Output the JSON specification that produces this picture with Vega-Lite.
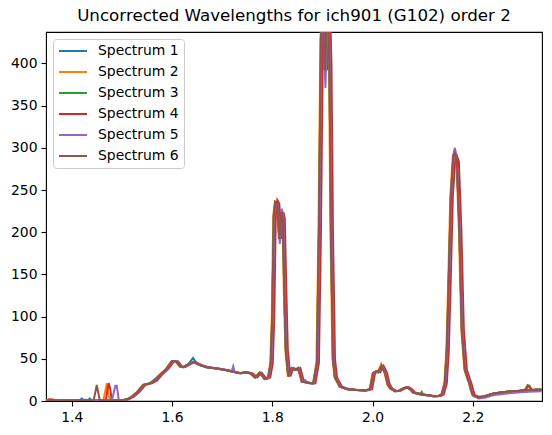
{
  "$schema": "https://vega.github.io/schema/vega-lite/v6.json",
  "width": 496,
  "height": 369,
  "autosize": {"type": "none"},
  "padding": {"left": 46, "top": 32, "right": 10, "bottom": 34},
  "background": "white",
  "title": {
    "text": "Uncorrected Wavelengths for ich901 (G102) order 2",
    "font": "DejaVu Sans",
    "fontSize": 16.7,
    "fontWeight": "normal",
    "color": "black",
    "anchor": "middle",
    "frame": "group",
    "offset": 7
  },
  "config": {
    "view": {"stroke": "black", "strokeWidth": 1.1},
    "axis": {
      "domain": false,
      "grid": false,
      "ticks": true,
      "tickColor": "black",
      "tickSize": 5,
      "tickWidth": 1.1,
      "labelFont": "DejaVu Sans",
      "labelFontSize": 13.9,
      "labelColor": "black",
      "labelPadding": 4
    },
    "legend": {
      "orient": "none",
      "legendX": 7,
      "legendY": 7,
      "symbolType": "stroke",
      "symbolSize": 784,
      "symbolStrokeWidth": 2,
      "clipHeight": 14,
      "rowPadding": 7,
      "padding": 5,
      "labelFont": "DejaVu Sans",
      "labelFontSize": 13.9,
      "labelColor": "black",
      "labelOffset": 10,
      "fillColor": "rgba(255,255,255,0.8)",
      "strokeColor": "#cccccc",
      "cornerRadius": 3
    }
  },
  "data": {
    "values": [
      {"s":"Spectrum 1","w":1.349,"f":1},{"s":"Spectrum 1","w":1.36,"f":1},{"s":"Spectrum 1","w":1.37,"f":0.5},{"s":"Spectrum 1","w":1.39,"f":0.5},{"s":"Spectrum 1","w":1.41,"f":0.5},{"s":"Spectrum 1","w":1.415,"f":0.5},{"s":"Spectrum 1","w":1.42,"f":3},{"s":"Spectrum 1","w":1.425,"f":0.5},{"s":"Spectrum 1","w":1.432,"f":0.5},{"s":"Spectrum 1","w":1.436,"f":3},{"s":"Spectrum 1","w":1.44,"f":0.5},{"s":"Spectrum 1","w":1.5,"f":0.5},{"s":"Spectrum 1","w":1.51,"f":2},{"s":"Spectrum 1","w":1.52,"f":5},{"s":"Spectrum 1","w":1.53,"f":10},{"s":"Spectrum 1","w":1.536,"f":15},{"s":"Spectrum 1","w":1.543,"f":19},{"s":"Spectrum 1","w":1.55,"f":20},{"s":"Spectrum 1","w":1.556,"f":21},{"s":"Spectrum 1","w":1.566,"f":26},{"s":"Spectrum 1","w":1.576,"f":31},{"s":"Spectrum 1","w":1.589,"f":38},{"s":"Spectrum 1","w":1.6,"f":47},{"s":"Spectrum 1","w":1.608,"f":47},{"s":"Spectrum 1","w":1.616,"f":41},{"s":"Spectrum 1","w":1.622,"f":40},{"s":"Spectrum 1","w":1.632,"f":43.5},{"s":"Spectrum 1","w":1.642,"f":51},{"s":"Spectrum 1","w":1.65,"f":44},{"s":"Spectrum 1","w":1.656,"f":42.5},{"s":"Spectrum 1","w":1.669,"f":40},{"s":"Spectrum 1","w":1.689,"f":38.5},{"s":"Spectrum 1","w":1.709,"f":36.5},{"s":"Spectrum 1","w":1.722,"f":34.5},{"s":"Spectrum 1","w":1.736,"f":33},{"s":"Spectrum 1","w":1.746,"f":34},{"s":"Spectrum 1","w":1.756,"f":33},{"s":"Spectrum 1","w":1.766,"f":28},{"s":"Spectrum 1","w":1.775,"f":33.5},{"s":"Spectrum 1","w":1.785,"f":26},{"s":"Spectrum 1","w":1.792,"f":28},{"s":"Spectrum 1","w":1.797,"f":45},{"s":"Spectrum 1","w":1.8,"f":100},{"s":"Spectrum 1","w":1.803,"f":220},{"s":"Spectrum 1","w":1.806,"f":236},{"s":"Spectrum 1","w":1.81,"f":234},{"s":"Spectrum 1","w":1.814,"f":192},{"s":"Spectrum 1","w":1.818,"f":224},{"s":"Spectrum 1","w":1.821,"f":216},{"s":"Spectrum 1","w":1.824,"f":130},{"s":"Spectrum 1","w":1.827,"f":60},{"s":"Spectrum 1","w":1.832,"f":29},{"s":"Spectrum 1","w":1.836,"f":36},{"s":"Spectrum 1","w":1.839,"f":39},{"s":"Spectrum 1","w":1.846,"f":37},{"s":"Spectrum 1","w":1.852,"f":39},{"s":"Spectrum 1","w":1.856,"f":30},{"s":"Spectrum 1","w":1.859,"f":23},{"s":"Spectrum 1","w":1.869,"f":22},{"s":"Spectrum 1","w":1.876,"f":21},{"s":"Spectrum 1","w":1.882,"f":21},{"s":"Spectrum 1","w":1.889,"f":45},{"s":"Spectrum 1","w":1.893,"f":200},{"s":"Spectrum 1","w":1.897,"f":430},{"s":"Spectrum 1","w":1.9,"f":470},{"s":"Spectrum 1","w":1.903,"f":420},{"s":"Spectrum 1","w":1.905,"f":392},{"s":"Spectrum 1","w":1.908,"f":440},{"s":"Spectrum 1","w":1.911,"f":470},{"s":"Spectrum 1","w":1.914,"f":400},{"s":"Spectrum 1","w":1.917,"f":200},{"s":"Spectrum 1","w":1.921,"f":50},{"s":"Spectrum 1","w":1.925,"f":28},{"s":"Spectrum 1","w":1.935,"f":17},{"s":"Spectrum 1","w":1.95,"f":14},{"s":"Spectrum 1","w":1.968,"f":13},{"s":"Spectrum 1","w":1.985,"f":12.5},{"s":"Spectrum 1","w":1.995,"f":14},{"s":"Spectrum 1","w":2.001,"f":33},{"s":"Spectrum 1","w":2.007,"f":35},{"s":"Spectrum 1","w":2.011,"f":34},{"s":"Spectrum 1","w":2.018,"f":41.5},{"s":"Spectrum 1","w":2.025,"f":33},{"s":"Spectrum 1","w":2.03,"f":20},{"s":"Spectrum 1","w":2.035,"f":15},{"s":"Spectrum 1","w":2.045,"f":11.5},{"s":"Spectrum 1","w":2.052,"f":12},{"s":"Spectrum 1","w":2.058,"f":14},{"s":"Spectrum 1","w":2.068,"f":16.5},{"s":"Spectrum 1","w":2.075,"f":14},{"s":"Spectrum 1","w":2.081,"f":10},{"s":"Spectrum 1","w":2.095,"f":8},{"s":"Spectrum 1","w":2.105,"f":7},{"s":"Spectrum 1","w":2.114,"f":6.5},{"s":"Spectrum 1","w":2.121,"f":5.5},{"s":"Spectrum 1","w":2.132,"f":6},{"s":"Spectrum 1","w":2.138,"f":8},{"s":"Spectrum 1","w":2.144,"f":21},{"s":"Spectrum 1","w":2.148,"f":60},{"s":"Spectrum 1","w":2.151,"f":124},{"s":"Spectrum 1","w":2.156,"f":242},{"s":"Spectrum 1","w":2.161,"f":291},{"s":"Spectrum 1","w":2.164,"f":294},{"s":"Spectrum 1","w":2.168,"f":286},{"s":"Spectrum 1","w":2.173,"f":203},{"s":"Spectrum 1","w":2.178,"f":84},{"s":"Spectrum 1","w":2.184,"f":37},{"s":"Spectrum 1","w":2.19,"f":26},{"s":"Spectrum 1","w":2.193,"f":21},{"s":"Spectrum 1","w":2.197,"f":12},{"s":"Spectrum 1","w":2.2,"f":7},{"s":"Spectrum 1","w":2.211,"f":5},{"s":"Spectrum 1","w":2.225,"f":6},{"s":"Spectrum 1","w":2.241,"f":9},{"s":"Spectrum 1","w":2.255,"f":10},{"s":"Spectrum 1","w":2.267,"f":11},{"s":"Spectrum 1","w":2.29,"f":12},{"s":"Spectrum 1","w":2.31,"f":13},{"s":"Spectrum 1","w":2.336,"f":13.5},

      {"s":"Spectrum 2","w":1.348,"f":1},{"s":"Spectrum 2","w":1.359,"f":1.5},{"s":"Spectrum 2","w":1.369,"f":0.5},{"s":"Spectrum 2","w":1.389,"f":0.5},{"s":"Spectrum 2","w":1.409,"f":0.5},{"s":"Spectrum 2","w":1.429,"f":1.5},{"s":"Spectrum 2","w":1.439,"f":0.5},{"s":"Spectrum 2","w":1.463,"f":0.5},{"s":"Spectrum 2","w":1.467,"f":12},{"s":"Spectrum 2","w":1.47,"f":21},{"s":"Spectrum 2","w":1.473,"f":8},{"s":"Spectrum 2","w":1.477,"f":0.5},{"s":"Spectrum 2","w":1.499,"f":0.5},{"s":"Spectrum 2","w":1.509,"f":2},{"s":"Spectrum 2","w":1.519,"f":5},{"s":"Spectrum 2","w":1.529,"f":10},{"s":"Spectrum 2","w":1.535,"f":14},{"s":"Spectrum 2","w":1.542,"f":19},{"s":"Spectrum 2","w":1.549,"f":20},{"s":"Spectrum 2","w":1.555,"f":21},{"s":"Spectrum 2","w":1.565,"f":24},{"s":"Spectrum 2","w":1.575,"f":31},{"s":"Spectrum 2","w":1.588,"f":38},{"s":"Spectrum 2","w":1.599,"f":47},{"s":"Spectrum 2","w":1.607,"f":47},{"s":"Spectrum 2","w":1.615,"f":41},{"s":"Spectrum 2","w":1.621,"f":40},{"s":"Spectrum 2","w":1.631,"f":43.5},{"s":"Spectrum 2","w":1.641,"f":46.5},{"s":"Spectrum 2","w":1.655,"f":42.5},{"s":"Spectrum 2","w":1.668,"f":40},{"s":"Spectrum 2","w":1.688,"f":38.5},{"s":"Spectrum 2","w":1.708,"f":36.5},{"s":"Spectrum 2","w":1.721,"f":34.5},{"s":"Spectrum 2","w":1.735,"f":33},{"s":"Spectrum 2","w":1.745,"f":34},{"s":"Spectrum 2","w":1.755,"f":33},{"s":"Spectrum 2","w":1.765,"f":28},{"s":"Spectrum 2","w":1.774,"f":33.5},{"s":"Spectrum 2","w":1.784,"f":26},{"s":"Spectrum 2","w":1.791,"f":28},{"s":"Spectrum 2","w":1.796,"f":45},{"s":"Spectrum 2","w":1.799,"f":100},{"s":"Spectrum 2","w":1.802,"f":220},{"s":"Spectrum 2","w":1.805,"f":236},{"s":"Spectrum 2","w":1.809,"f":234},{"s":"Spectrum 2","w":1.813,"f":192},{"s":"Spectrum 2","w":1.817,"f":224},{"s":"Spectrum 2","w":1.82,"f":216},{"s":"Spectrum 2","w":1.823,"f":130},{"s":"Spectrum 2","w":1.826,"f":60},{"s":"Spectrum 2","w":1.831,"f":29},{"s":"Spectrum 2","w":1.835,"f":36},{"s":"Spectrum 2","w":1.838,"f":39},{"s":"Spectrum 2","w":1.845,"f":37},{"s":"Spectrum 2","w":1.851,"f":39},{"s":"Spectrum 2","w":1.855,"f":30},{"s":"Spectrum 2","w":1.858,"f":23},{"s":"Spectrum 2","w":1.868,"f":22},{"s":"Spectrum 2","w":1.875,"f":21},{"s":"Spectrum 2","w":1.881,"f":21},{"s":"Spectrum 2","w":1.888,"f":45},{"s":"Spectrum 2","w":1.892,"f":200},{"s":"Spectrum 2","w":1.896,"f":430},{"s":"Spectrum 2","w":1.899,"f":470},{"s":"Spectrum 2","w":1.902,"f":420},{"s":"Spectrum 2","w":1.904,"f":392},{"s":"Spectrum 2","w":1.907,"f":440},{"s":"Spectrum 2","w":1.91,"f":470},{"s":"Spectrum 2","w":1.913,"f":400},{"s":"Spectrum 2","w":1.916,"f":200},{"s":"Spectrum 2","w":1.92,"f":50},{"s":"Spectrum 2","w":1.924,"f":28},{"s":"Spectrum 2","w":1.934,"f":17},{"s":"Spectrum 2","w":1.949,"f":14},{"s":"Spectrum 2","w":1.967,"f":13},{"s":"Spectrum 2","w":1.984,"f":12.5},{"s":"Spectrum 2","w":1.994,"f":14},{"s":"Spectrum 2","w":2.0,"f":33},{"s":"Spectrum 2","w":2.006,"f":35},{"s":"Spectrum 2","w":2.01,"f":34},{"s":"Spectrum 2","w":2.017,"f":44},{"s":"Spectrum 2","w":2.024,"f":33},{"s":"Spectrum 2","w":2.029,"f":20},{"s":"Spectrum 2","w":2.034,"f":15},{"s":"Spectrum 2","w":2.044,"f":11.5},{"s":"Spectrum 2","w":2.051,"f":12},{"s":"Spectrum 2","w":2.057,"f":14},{"s":"Spectrum 2","w":2.067,"f":16.5},{"s":"Spectrum 2","w":2.074,"f":14},{"s":"Spectrum 2","w":2.08,"f":10},{"s":"Spectrum 2","w":2.094,"f":8},{"s":"Spectrum 2","w":2.104,"f":7},{"s":"Spectrum 2","w":2.113,"f":6.5},{"s":"Spectrum 2","w":2.12,"f":5.5},{"s":"Spectrum 2","w":2.131,"f":6},{"s":"Spectrum 2","w":2.137,"f":8},{"s":"Spectrum 2","w":2.143,"f":21},{"s":"Spectrum 2","w":2.147,"f":60},{"s":"Spectrum 2","w":2.15,"f":124},{"s":"Spectrum 2","w":2.155,"f":242},{"s":"Spectrum 2","w":2.16,"f":291},{"s":"Spectrum 2","w":2.163,"f":294},{"s":"Spectrum 2","w":2.167,"f":286},{"s":"Spectrum 2","w":2.172,"f":203},{"s":"Spectrum 2","w":2.177,"f":84},{"s":"Spectrum 2","w":2.183,"f":37},{"s":"Spectrum 2","w":2.189,"f":26},{"s":"Spectrum 2","w":2.192,"f":21},{"s":"Spectrum 2","w":2.196,"f":12},{"s":"Spectrum 2","w":2.199,"f":7},{"s":"Spectrum 2","w":2.21,"f":4},{"s":"Spectrum 2","w":2.224,"f":6},{"s":"Spectrum 2","w":2.24,"f":9},{"s":"Spectrum 2","w":2.254,"f":10},{"s":"Spectrum 2","w":2.266,"f":11},{"s":"Spectrum 2","w":2.289,"f":12},{"s":"Spectrum 2","w":2.309,"f":13},{"s":"Spectrum 2","w":2.335,"f":13.5},

      {"s":"Spectrum 3","w":1.349,"f":0.5},{"s":"Spectrum 3","w":1.36,"f":1},{"s":"Spectrum 3","w":1.37,"f":0.5},{"s":"Spectrum 3","w":1.39,"f":0.5},{"s":"Spectrum 3","w":1.41,"f":0.5},{"s":"Spectrum 3","w":1.43,"f":1},{"s":"Spectrum 3","w":1.44,"f":0.5},{"s":"Spectrum 3","w":1.5,"f":0.5},{"s":"Spectrum 3","w":1.51,"f":2},{"s":"Spectrum 3","w":1.52,"f":5},{"s":"Spectrum 3","w":1.53,"f":10},{"s":"Spectrum 3","w":1.536,"f":14},{"s":"Spectrum 3","w":1.543,"f":19},{"s":"Spectrum 3","w":1.55,"f":20},{"s":"Spectrum 3","w":1.556,"f":21},{"s":"Spectrum 3","w":1.566,"f":24},{"s":"Spectrum 3","w":1.576,"f":31},{"s":"Spectrum 3","w":1.589,"f":38},{"s":"Spectrum 3","w":1.6,"f":47},{"s":"Spectrum 3","w":1.608,"f":47},{"s":"Spectrum 3","w":1.616,"f":41},{"s":"Spectrum 3","w":1.622,"f":40},{"s":"Spectrum 3","w":1.632,"f":43.5},{"s":"Spectrum 3","w":1.642,"f":46.5},{"s":"Spectrum 3","w":1.656,"f":42.5},{"s":"Spectrum 3","w":1.669,"f":40},{"s":"Spectrum 3","w":1.689,"f":38.5},{"s":"Spectrum 3","w":1.709,"f":36.5},{"s":"Spectrum 3","w":1.722,"f":34.5},{"s":"Spectrum 3","w":1.736,"f":33},{"s":"Spectrum 3","w":1.746,"f":34},{"s":"Spectrum 3","w":1.756,"f":33},{"s":"Spectrum 3","w":1.766,"f":28},{"s":"Spectrum 3","w":1.775,"f":33.5},{"s":"Spectrum 3","w":1.785,"f":26},{"s":"Spectrum 3","w":1.792,"f":28},{"s":"Spectrum 3","w":1.797,"f":45},{"s":"Spectrum 3","w":1.8,"f":100},{"s":"Spectrum 3","w":1.803,"f":220},{"s":"Spectrum 3","w":1.806,"f":236},{"s":"Spectrum 3","w":1.81,"f":234},{"s":"Spectrum 3","w":1.814,"f":192},{"s":"Spectrum 3","w":1.818,"f":222},{"s":"Spectrum 3","w":1.821,"f":220},{"s":"Spectrum 3","w":1.824,"f":130},{"s":"Spectrum 3","w":1.827,"f":60},{"s":"Spectrum 3","w":1.832,"f":29},{"s":"Spectrum 3","w":1.836,"f":36},{"s":"Spectrum 3","w":1.839,"f":39},{"s":"Spectrum 3","w":1.846,"f":37},{"s":"Spectrum 3","w":1.852,"f":39},{"s":"Spectrum 3","w":1.856,"f":30},{"s":"Spectrum 3","w":1.859,"f":23},{"s":"Spectrum 3","w":1.869,"f":22},{"s":"Spectrum 3","w":1.876,"f":21},{"s":"Spectrum 3","w":1.882,"f":21},{"s":"Spectrum 3","w":1.889,"f":45},{"s":"Spectrum 3","w":1.893,"f":200},{"s":"Spectrum 3","w":1.897,"f":430},{"s":"Spectrum 3","w":1.9,"f":470},{"s":"Spectrum 3","w":1.903,"f":420},{"s":"Spectrum 3","w":1.905,"f":392},{"s":"Spectrum 3","w":1.908,"f":440},{"s":"Spectrum 3","w":1.911,"f":470},{"s":"Spectrum 3","w":1.914,"f":400},{"s":"Spectrum 3","w":1.917,"f":200},{"s":"Spectrum 3","w":1.921,"f":50},{"s":"Spectrum 3","w":1.925,"f":28},{"s":"Spectrum 3","w":1.935,"f":17},{"s":"Spectrum 3","w":1.95,"f":14},{"s":"Spectrum 3","w":1.968,"f":13},{"s":"Spectrum 3","w":1.985,"f":12.5},{"s":"Spectrum 3","w":1.995,"f":14},{"s":"Spectrum 3","w":2.001,"f":33},{"s":"Spectrum 3","w":2.007,"f":35},{"s":"Spectrum 3","w":2.011,"f":34},{"s":"Spectrum 3","w":2.018,"f":41.5},{"s":"Spectrum 3","w":2.025,"f":33},{"s":"Spectrum 3","w":2.03,"f":20},{"s":"Spectrum 3","w":2.035,"f":15},{"s":"Spectrum 3","w":2.045,"f":11.5},{"s":"Spectrum 3","w":2.052,"f":12},{"s":"Spectrum 3","w":2.058,"f":14},{"s":"Spectrum 3","w":2.068,"f":16.5},{"s":"Spectrum 3","w":2.075,"f":14},{"s":"Spectrum 3","w":2.081,"f":10},{"s":"Spectrum 3","w":2.095,"f":8},{"s":"Spectrum 3","w":2.098,"f":11},{"s":"Spectrum 3","w":2.101,"f":7.5},{"s":"Spectrum 3","w":2.105,"f":7},{"s":"Spectrum 3","w":2.114,"f":6.5},{"s":"Spectrum 3","w":2.121,"f":5.5},{"s":"Spectrum 3","w":2.132,"f":6},{"s":"Spectrum 3","w":2.138,"f":8},{"s":"Spectrum 3","w":2.144,"f":21},{"s":"Spectrum 3","w":2.148,"f":60},{"s":"Spectrum 3","w":2.151,"f":124},{"s":"Spectrum 3","w":2.156,"f":242},{"s":"Spectrum 3","w":2.161,"f":291},{"s":"Spectrum 3","w":2.164,"f":294},{"s":"Spectrum 3","w":2.168,"f":286},{"s":"Spectrum 3","w":2.173,"f":203},{"s":"Spectrum 3","w":2.178,"f":84},{"s":"Spectrum 3","w":2.184,"f":37},{"s":"Spectrum 3","w":2.19,"f":26},{"s":"Spectrum 3","w":2.193,"f":21},{"s":"Spectrum 3","w":2.197,"f":12},{"s":"Spectrum 3","w":2.2,"f":7},{"s":"Spectrum 3","w":2.211,"f":4},{"s":"Spectrum 3","w":2.225,"f":6},{"s":"Spectrum 3","w":2.241,"f":9},{"s":"Spectrum 3","w":2.255,"f":10},{"s":"Spectrum 3","w":2.267,"f":11},{"s":"Spectrum 3","w":2.29,"f":12},{"s":"Spectrum 3","w":2.3,"f":13},{"s":"Spectrum 3","w":2.305,"f":14},{"s":"Spectrum 3","w":2.309,"f":19},{"s":"Spectrum 3","w":2.313,"f":18},{"s":"Spectrum 3","w":2.317,"f":13},{"s":"Spectrum 3","w":2.336,"f":13.5},

      {"s":"Spectrum 4","w":1.353,"f":2},{"s":"Spectrum 4","w":1.364,"f":1.5},{"s":"Spectrum 4","w":1.374,"f":0.5},{"s":"Spectrum 4","w":1.394,"f":0.5},{"s":"Spectrum 4","w":1.414,"f":0.5},{"s":"Spectrum 4","w":1.434,"f":1},{"s":"Spectrum 4","w":1.444,"f":0.5},{"s":"Spectrum 4","w":1.468,"f":0.5},{"s":"Spectrum 4","w":1.471,"f":12},{"s":"Spectrum 4","w":1.474,"f":21},{"s":"Spectrum 4","w":1.477,"f":14},{"s":"Spectrum 4","w":1.48,"f":0.5},{"s":"Spectrum 4","w":1.504,"f":0.5},{"s":"Spectrum 4","w":1.514,"f":2},{"s":"Spectrum 4","w":1.524,"f":5},{"s":"Spectrum 4","w":1.534,"f":10},{"s":"Spectrum 4","w":1.54,"f":14},{"s":"Spectrum 4","w":1.547,"f":19},{"s":"Spectrum 4","w":1.554,"f":20},{"s":"Spectrum 4","w":1.56,"f":21},{"s":"Spectrum 4","w":1.57,"f":24},{"s":"Spectrum 4","w":1.58,"f":31},{"s":"Spectrum 4","w":1.593,"f":38},{"s":"Spectrum 4","w":1.604,"f":47},{"s":"Spectrum 4","w":1.612,"f":47},{"s":"Spectrum 4","w":1.62,"f":41},{"s":"Spectrum 4","w":1.626,"f":40},{"s":"Spectrum 4","w":1.636,"f":43.5},{"s":"Spectrum 4","w":1.646,"f":46.5},{"s":"Spectrum 4","w":1.66,"f":42.5},{"s":"Spectrum 4","w":1.673,"f":40},{"s":"Spectrum 4","w":1.693,"f":38.5},{"s":"Spectrum 4","w":1.713,"f":36.5},{"s":"Spectrum 4","w":1.726,"f":34.5},{"s":"Spectrum 4","w":1.74,"f":33},{"s":"Spectrum 4","w":1.75,"f":34},{"s":"Spectrum 4","w":1.76,"f":33},{"s":"Spectrum 4","w":1.77,"f":28},{"s":"Spectrum 4","w":1.779,"f":33.5},{"s":"Spectrum 4","w":1.789,"f":26},{"s":"Spectrum 4","w":1.796,"f":28},{"s":"Spectrum 4","w":1.801,"f":45},{"s":"Spectrum 4","w":1.804,"f":100},{"s":"Spectrum 4","w":1.807,"f":220},{"s":"Spectrum 4","w":1.81,"f":238},{"s":"Spectrum 4","w":1.814,"f":234},{"s":"Spectrum 4","w":1.818,"f":192},{"s":"Spectrum 4","w":1.822,"f":224},{"s":"Spectrum 4","w":1.825,"f":216},{"s":"Spectrum 4","w":1.828,"f":130},{"s":"Spectrum 4","w":1.831,"f":60},{"s":"Spectrum 4","w":1.836,"f":29},{"s":"Spectrum 4","w":1.84,"f":36},{"s":"Spectrum 4","w":1.843,"f":39},{"s":"Spectrum 4","w":1.85,"f":37},{"s":"Spectrum 4","w":1.856,"f":39},{"s":"Spectrum 4","w":1.86,"f":30},{"s":"Spectrum 4","w":1.863,"f":23},{"s":"Spectrum 4","w":1.873,"f":22},{"s":"Spectrum 4","w":1.88,"f":21},{"s":"Spectrum 4","w":1.886,"f":21},{"s":"Spectrum 4","w":1.893,"f":45},{"s":"Spectrum 4","w":1.897,"f":200},{"s":"Spectrum 4","w":1.901,"f":430},{"s":"Spectrum 4","w":1.904,"f":470},{"s":"Spectrum 4","w":1.907,"f":420},{"s":"Spectrum 4","w":1.909,"f":392},{"s":"Spectrum 4","w":1.912,"f":440},{"s":"Spectrum 4","w":1.915,"f":470},{"s":"Spectrum 4","w":1.918,"f":400},{"s":"Spectrum 4","w":1.921,"f":200},{"s":"Spectrum 4","w":1.925,"f":50},{"s":"Spectrum 4","w":1.929,"f":28},{"s":"Spectrum 4","w":1.939,"f":17},{"s":"Spectrum 4","w":1.954,"f":14},{"s":"Spectrum 4","w":1.972,"f":13},{"s":"Spectrum 4","w":1.989,"f":12.5},{"s":"Spectrum 4","w":1.999,"f":14},{"s":"Spectrum 4","w":2.005,"f":33},{"s":"Spectrum 4","w":2.011,"f":35},{"s":"Spectrum 4","w":2.015,"f":34},{"s":"Spectrum 4","w":2.022,"f":41.5},{"s":"Spectrum 4","w":2.029,"f":33},{"s":"Spectrum 4","w":2.034,"f":20},{"s":"Spectrum 4","w":2.039,"f":15},{"s":"Spectrum 4","w":2.049,"f":11.5},{"s":"Spectrum 4","w":2.056,"f":12},{"s":"Spectrum 4","w":2.062,"f":14},{"s":"Spectrum 4","w":2.072,"f":16.5},{"s":"Spectrum 4","w":2.079,"f":14},{"s":"Spectrum 4","w":2.085,"f":10},{"s":"Spectrum 4","w":2.099,"f":8},{"s":"Spectrum 4","w":2.109,"f":7},{"s":"Spectrum 4","w":2.118,"f":6.5},{"s":"Spectrum 4","w":2.125,"f":5.5},{"s":"Spectrum 4","w":2.136,"f":6},{"s":"Spectrum 4","w":2.142,"f":8},{"s":"Spectrum 4","w":2.148,"f":21},{"s":"Spectrum 4","w":2.152,"f":60},{"s":"Spectrum 4","w":2.155,"f":124},{"s":"Spectrum 4","w":2.16,"f":242},{"s":"Spectrum 4","w":2.165,"f":289},{"s":"Spectrum 4","w":2.168,"f":291},{"s":"Spectrum 4","w":2.172,"f":284},{"s":"Spectrum 4","w":2.177,"f":203},{"s":"Spectrum 4","w":2.182,"f":84},{"s":"Spectrum 4","w":2.188,"f":37},{"s":"Spectrum 4","w":2.194,"f":26},{"s":"Spectrum 4","w":2.197,"f":21},{"s":"Spectrum 4","w":2.201,"f":12},{"s":"Spectrum 4","w":2.204,"f":7},{"s":"Spectrum 4","w":2.215,"f":4},{"s":"Spectrum 4","w":2.229,"f":6},{"s":"Spectrum 4","w":2.245,"f":9},{"s":"Spectrum 4","w":2.259,"f":10},{"s":"Spectrum 4","w":2.271,"f":11},{"s":"Spectrum 4","w":2.294,"f":12},{"s":"Spectrum 4","w":2.305,"f":13},{"s":"Spectrum 4","w":2.309,"f":17},{"s":"Spectrum 4","w":2.313,"f":17},{"s":"Spectrum 4","w":2.317,"f":13},{"s":"Spectrum 4","w":2.34,"f":13.5},

      {"s":"Spectrum 5","w":1.35,"f":1},{"s":"Spectrum 5","w":1.361,"f":1},{"s":"Spectrum 5","w":1.371,"f":0.5},{"s":"Spectrum 5","w":1.391,"f":0.5},{"s":"Spectrum 5","w":1.411,"f":0.5},{"s":"Spectrum 5","w":1.431,"f":1},{"s":"Spectrum 5","w":1.441,"f":0.5},{"s":"Spectrum 5","w":1.48,"f":0.5},{"s":"Spectrum 5","w":1.484,"f":10},{"s":"Spectrum 5","w":1.487,"f":18},{"s":"Spectrum 5","w":1.49,"f":18},{"s":"Spectrum 5","w":1.494,"f":0.5},{"s":"Spectrum 5","w":1.501,"f":0.5},{"s":"Spectrum 5","w":1.511,"f":2},{"s":"Spectrum 5","w":1.521,"f":5},{"s":"Spectrum 5","w":1.531,"f":10},{"s":"Spectrum 5","w":1.537,"f":14},{"s":"Spectrum 5","w":1.544,"f":19},{"s":"Spectrum 5","w":1.551,"f":20},{"s":"Spectrum 5","w":1.557,"f":21},{"s":"Spectrum 5","w":1.567,"f":24},{"s":"Spectrum 5","w":1.577,"f":31},{"s":"Spectrum 5","w":1.59,"f":38},{"s":"Spectrum 5","w":1.601,"f":47},{"s":"Spectrum 5","w":1.609,"f":47},{"s":"Spectrum 5","w":1.617,"f":41},{"s":"Spectrum 5","w":1.623,"f":40},{"s":"Spectrum 5","w":1.633,"f":43.5},{"s":"Spectrum 5","w":1.643,"f":46.5},{"s":"Spectrum 5","w":1.657,"f":42.5},{"s":"Spectrum 5","w":1.67,"f":40},{"s":"Spectrum 5","w":1.69,"f":38.5},{"s":"Spectrum 5","w":1.71,"f":36.5},{"s":"Spectrum 5","w":1.719,"f":35},{"s":"Spectrum 5","w":1.722,"f":41},{"s":"Spectrum 5","w":1.725,"f":34.5},{"s":"Spectrum 5","w":1.737,"f":33},{"s":"Spectrum 5","w":1.747,"f":34},{"s":"Spectrum 5","w":1.757,"f":33},{"s":"Spectrum 5","w":1.767,"f":28},{"s":"Spectrum 5","w":1.776,"f":33.5},{"s":"Spectrum 5","w":1.786,"f":26},{"s":"Spectrum 5","w":1.793,"f":28},{"s":"Spectrum 5","w":1.798,"f":45},{"s":"Spectrum 5","w":1.801,"f":100},{"s":"Spectrum 5","w":1.804,"f":220},{"s":"Spectrum 5","w":1.807,"f":234},{"s":"Spectrum 5","w":1.811,"f":232},{"s":"Spectrum 5","w":1.815,"f":186},{"s":"Spectrum 5","w":1.819,"f":228},{"s":"Spectrum 5","w":1.822,"f":218},{"s":"Spectrum 5","w":1.825,"f":130},{"s":"Spectrum 5","w":1.828,"f":60},{"s":"Spectrum 5","w":1.833,"f":29},{"s":"Spectrum 5","w":1.837,"f":36},{"s":"Spectrum 5","w":1.84,"f":39},{"s":"Spectrum 5","w":1.847,"f":37},{"s":"Spectrum 5","w":1.853,"f":39},{"s":"Spectrum 5","w":1.857,"f":30},{"s":"Spectrum 5","w":1.86,"f":23},{"s":"Spectrum 5","w":1.865,"f":25},{"s":"Spectrum 5","w":1.87,"f":22},{"s":"Spectrum 5","w":1.877,"f":21},{"s":"Spectrum 5","w":1.883,"f":21},{"s":"Spectrum 5","w":1.89,"f":45},{"s":"Spectrum 5","w":1.894,"f":200},{"s":"Spectrum 5","w":1.898,"f":430},{"s":"Spectrum 5","w":1.901,"f":465},{"s":"Spectrum 5","w":1.904,"f":400},{"s":"Spectrum 5","w":1.906,"f":371},{"s":"Spectrum 5","w":1.909,"f":430},{"s":"Spectrum 5","w":1.912,"f":465},{"s":"Spectrum 5","w":1.915,"f":400},{"s":"Spectrum 5","w":1.918,"f":200},{"s":"Spectrum 5","w":1.922,"f":50},{"s":"Spectrum 5","w":1.926,"f":28},{"s":"Spectrum 5","w":1.936,"f":17},{"s":"Spectrum 5","w":1.951,"f":14},{"s":"Spectrum 5","w":1.969,"f":13},{"s":"Spectrum 5","w":1.986,"f":12.5},{"s":"Spectrum 5","w":1.996,"f":14},{"s":"Spectrum 5","w":2.002,"f":33},{"s":"Spectrum 5","w":2.008,"f":35},{"s":"Spectrum 5","w":2.012,"f":34},{"s":"Spectrum 5","w":2.019,"f":41.5},{"s":"Spectrum 5","w":2.026,"f":33},{"s":"Spectrum 5","w":2.031,"f":20},{"s":"Spectrum 5","w":2.036,"f":15},{"s":"Spectrum 5","w":2.046,"f":11.5},{"s":"Spectrum 5","w":2.053,"f":12},{"s":"Spectrum 5","w":2.059,"f":14},{"s":"Spectrum 5","w":2.069,"f":16.5},{"s":"Spectrum 5","w":2.076,"f":14},{"s":"Spectrum 5","w":2.082,"f":10},{"s":"Spectrum 5","w":2.096,"f":8},{"s":"Spectrum 5","w":2.106,"f":7},{"s":"Spectrum 5","w":2.115,"f":6.5},{"s":"Spectrum 5","w":2.122,"f":5.5},{"s":"Spectrum 5","w":2.133,"f":6},{"s":"Spectrum 5","w":2.139,"f":8},{"s":"Spectrum 5","w":2.145,"f":21},{"s":"Spectrum 5","w":2.149,"f":60},{"s":"Spectrum 5","w":2.152,"f":124},{"s":"Spectrum 5","w":2.157,"f":245},{"s":"Spectrum 5","w":2.162,"f":295},{"s":"Spectrum 5","w":2.164,"f":300},{"s":"Spectrum 5","w":2.167,"f":292},{"s":"Spectrum 5","w":2.174,"f":203},{"s":"Spectrum 5","w":2.179,"f":84},{"s":"Spectrum 5","w":2.185,"f":37},{"s":"Spectrum 5","w":2.191,"f":26},{"s":"Spectrum 5","w":2.194,"f":21},{"s":"Spectrum 5","w":2.198,"f":12},{"s":"Spectrum 5","w":2.201,"f":6},{"s":"Spectrum 5","w":2.212,"f":3},{"s":"Spectrum 5","w":2.226,"f":4},{"s":"Spectrum 5","w":2.242,"f":7},{"s":"Spectrum 5","w":2.256,"f":8},{"s":"Spectrum 5","w":2.268,"f":9},{"s":"Spectrum 5","w":2.291,"f":10},{"s":"Spectrum 5","w":2.311,"f":11},{"s":"Spectrum 5","w":2.337,"f":11.5},

      {"s":"Spectrum 6","w":1.349,"f":1},{"s":"Spectrum 6","w":1.36,"f":1.5},{"s":"Spectrum 6","w":1.37,"f":0.5},{"s":"Spectrum 6","w":1.39,"f":0.5},{"s":"Spectrum 6","w":1.41,"f":0.5},{"s":"Spectrum 6","w":1.43,"f":1},{"s":"Spectrum 6","w":1.44,"f":0.5},{"s":"Spectrum 6","w":1.444,"f":1},{"s":"Spectrum 6","w":1.45,"f":19},{"s":"Spectrum 6","w":1.456,"f":1},{"s":"Spectrum 6","w":1.46,"f":0.5},{"s":"Spectrum 6","w":1.5,"f":0.5},{"s":"Spectrum 6","w":1.51,"f":2},{"s":"Spectrum 6","w":1.52,"f":5},{"s":"Spectrum 6","w":1.53,"f":10},{"s":"Spectrum 6","w":1.536,"f":14},{"s":"Spectrum 6","w":1.543,"f":19},{"s":"Spectrum 6","w":1.55,"f":20},{"s":"Spectrum 6","w":1.556,"f":21},{"s":"Spectrum 6","w":1.566,"f":24},{"s":"Spectrum 6","w":1.576,"f":31},{"s":"Spectrum 6","w":1.589,"f":38},{"s":"Spectrum 6","w":1.6,"f":47},{"s":"Spectrum 6","w":1.608,"f":47},{"s":"Spectrum 6","w":1.616,"f":41},{"s":"Spectrum 6","w":1.622,"f":40},{"s":"Spectrum 6","w":1.632,"f":43.5},{"s":"Spectrum 6","w":1.642,"f":46.5},{"s":"Spectrum 6","w":1.656,"f":42.5},{"s":"Spectrum 6","w":1.669,"f":40},{"s":"Spectrum 6","w":1.689,"f":38.5},{"s":"Spectrum 6","w":1.709,"f":36.5},{"s":"Spectrum 6","w":1.722,"f":34.5},{"s":"Spectrum 6","w":1.736,"f":33},{"s":"Spectrum 6","w":1.746,"f":34},{"s":"Spectrum 6","w":1.756,"f":33},{"s":"Spectrum 6","w":1.766,"f":28},{"s":"Spectrum 6","w":1.775,"f":33.5},{"s":"Spectrum 6","w":1.785,"f":26},{"s":"Spectrum 6","w":1.792,"f":28},{"s":"Spectrum 6","w":1.797,"f":45},{"s":"Spectrum 6","w":1.8,"f":100},{"s":"Spectrum 6","w":1.803,"f":220},{"s":"Spectrum 6","w":1.806,"f":236},{"s":"Spectrum 6","w":1.81,"f":234},{"s":"Spectrum 6","w":1.814,"f":192},{"s":"Spectrum 6","w":1.818,"f":224},{"s":"Spectrum 6","w":1.821,"f":216},{"s":"Spectrum 6","w":1.824,"f":130},{"s":"Spectrum 6","w":1.827,"f":60},{"s":"Spectrum 6","w":1.832,"f":29},{"s":"Spectrum 6","w":1.836,"f":36},{"s":"Spectrum 6","w":1.839,"f":39},{"s":"Spectrum 6","w":1.846,"f":37},{"s":"Spectrum 6","w":1.852,"f":39},{"s":"Spectrum 6","w":1.856,"f":30},{"s":"Spectrum 6","w":1.859,"f":23},{"s":"Spectrum 6","w":1.869,"f":22},{"s":"Spectrum 6","w":1.876,"f":21},{"s":"Spectrum 6","w":1.882,"f":21},{"s":"Spectrum 6","w":1.889,"f":45},{"s":"Spectrum 6","w":1.893,"f":200},{"s":"Spectrum 6","w":1.897,"f":430},{"s":"Spectrum 6","w":1.9,"f":470},{"s":"Spectrum 6","w":1.903,"f":420},{"s":"Spectrum 6","w":1.905,"f":392},{"s":"Spectrum 6","w":1.908,"f":440},{"s":"Spectrum 6","w":1.911,"f":470},{"s":"Spectrum 6","w":1.914,"f":400},{"s":"Spectrum 6","w":1.917,"f":200},{"s":"Spectrum 6","w":1.921,"f":50},{"s":"Spectrum 6","w":1.925,"f":28},{"s":"Spectrum 6","w":1.935,"f":17},{"s":"Spectrum 6","w":1.95,"f":14},{"s":"Spectrum 6","w":1.968,"f":13},{"s":"Spectrum 6","w":1.985,"f":12.5},{"s":"Spectrum 6","w":1.995,"f":14},{"s":"Spectrum 6","w":2.001,"f":33},{"s":"Spectrum 6","w":2.007,"f":35},{"s":"Spectrum 6","w":2.011,"f":34},{"s":"Spectrum 6","w":2.018,"f":41.5},{"s":"Spectrum 6","w":2.025,"f":33},{"s":"Spectrum 6","w":2.03,"f":20},{"s":"Spectrum 6","w":2.035,"f":15},{"s":"Spectrum 6","w":2.045,"f":11.5},{"s":"Spectrum 6","w":2.052,"f":12},{"s":"Spectrum 6","w":2.058,"f":14},{"s":"Spectrum 6","w":2.068,"f":16.5},{"s":"Spectrum 6","w":2.075,"f":14},{"s":"Spectrum 6","w":2.081,"f":10},{"s":"Spectrum 6","w":2.095,"f":8},{"s":"Spectrum 6","w":2.105,"f":7},{"s":"Spectrum 6","w":2.114,"f":6.5},{"s":"Spectrum 6","w":2.121,"f":5.5},{"s":"Spectrum 6","w":2.132,"f":6},{"s":"Spectrum 6","w":2.138,"f":8},{"s":"Spectrum 6","w":2.144,"f":21},{"s":"Spectrum 6","w":2.148,"f":60},{"s":"Spectrum 6","w":2.151,"f":124},{"s":"Spectrum 6","w":2.156,"f":242},{"s":"Spectrum 6","w":2.161,"f":291},{"s":"Spectrum 6","w":2.164,"f":294},{"s":"Spectrum 6","w":2.168,"f":286},{"s":"Spectrum 6","w":2.173,"f":203},{"s":"Spectrum 6","w":2.178,"f":84},{"s":"Spectrum 6","w":2.184,"f":37},{"s":"Spectrum 6","w":2.19,"f":26},{"s":"Spectrum 6","w":2.193,"f":21},{"s":"Spectrum 6","w":2.197,"f":12},{"s":"Spectrum 6","w":2.2,"f":7},{"s":"Spectrum 6","w":2.211,"f":4},{"s":"Spectrum 6","w":2.225,"f":6},{"s":"Spectrum 6","w":2.241,"f":9},{"s":"Spectrum 6","w":2.255,"f":10},{"s":"Spectrum 6","w":2.267,"f":11},{"s":"Spectrum 6","w":2.29,"f":12},{"s":"Spectrum 6","w":2.31,"f":13},{"s":"Spectrum 6","w":2.336,"f":13.5}
    ]
  },
  "mark": {"type": "line", "strokeWidth": 2, "clip": true},
  "encoding": {
    "x": {
      "field": "w",
      "type": "quantitative",
      "scale": {"domain": [1.3488, 2.3378], "nice": false, "zero": false},
      "axis": {"title": null, "values": [1.4, 1.6, 1.8, 2.0, 2.2], "format": ".1f"}
    },
    "y": {
      "field": "f",
      "type": "quantitative",
      "scale": {"domain": [0, 437.3], "nice": false, "zero": false},
      "axis": {"title": null, "values": [0, 50, 100, 150, 200, 250, 300, 350, 400]}
    },
    "color": {
      "field": "s",
      "type": "nominal",
      "scale": {
        "domain": ["Spectrum 1", "Spectrum 2", "Spectrum 3", "Spectrum 4", "Spectrum 5", "Spectrum 6"],
        "range": ["#1f77b4", "#ff7f0e", "#2ca02c", "#d62728", "#9467bd", "#8c564b"]
      },
      "legend": {"title": null}
    }
  }
}
